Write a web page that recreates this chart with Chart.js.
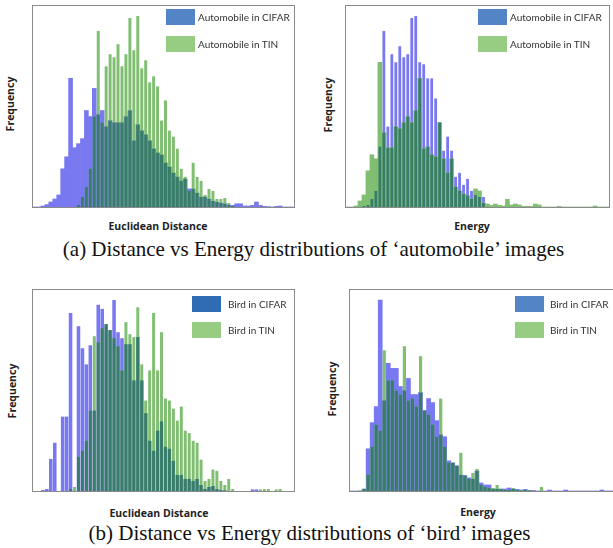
<!DOCTYPE html>
<html>
<head>
<meta charset="utf-8">
<script src="https://cdn.jsdelivr.net/npm/chart.js@4/dist/chart.umd.min.js"></script>
<style>
  body { margin: 0; background: #fff; }
  #fig { position: relative; width: 613px; height: 548px; overflow: hidden; font-family: Lato, "Open Sans", sans-serif; }
  .box { position: absolute; border: 1px solid #8a8a8a; box-sizing: border-box; }
  .box canvas { display: block; }
  .sw { position: absolute; width: 29px; height: 16px; }
  .lg { position: absolute; font-size: 10px; color: #333; line-height: 12px; white-space: nowrap; }
  .xl { position: absolute; font-family: "Open Sans", sans-serif; font-size: 10.5px; font-weight: bold; color: #222; transform: translate(-50%, -50%); white-space: nowrap; }
  .yl { position: absolute; font-family: "Open Sans", sans-serif; font-size: 10.5px; font-weight: bold; color: #222; transform: translate(-50%, -50%) rotate(-90deg); white-space: nowrap; }
  .cap { position: absolute; width: 613px; text-align: center; font-family: "Liberation Serif", serif; font-size: 21px; line-height: 24px; color: #111; white-space: nowrap; }
</style>
</head>
<body>
<div id="fig">
  <div class="box" style="left:32px;top:5px;width:263px;height:203px"><canvas id="c1" width="261" height="201"></canvas></div>
  <div class="box" style="left:345px;top:5px;width:265px;height:203px"><canvas id="c2" width="263" height="201"></canvas></div>
  <div class="box" style="left:32px;top:289px;width:263px;height:203px"><canvas id="c3" width="261" height="201"></canvas></div>
  <div class="box" style="left:349px;top:289px;width:268px;height:203px"><canvas id="c4" width="266" height="201"></canvas></div>

  <div class="sw" style="left:166px;top:9px;background:#5284c6"></div>
  <div class="lg" style="left:198px;top:11px">Automobile in CIFAR</div>
  <div class="sw" style="left:166px;top:36px;background:#97cd83"></div>
  <div class="lg" style="left:198px;top:38px">Automobile in TIN</div>

  <div class="sw" style="left:478px;top:9px;background:#5284c6"></div>
  <div class="lg" style="left:510px;top:11px">Automobile in CIFAR</div>
  <div class="sw" style="left:478px;top:36px;background:#97cd83"></div>
  <div class="lg" style="left:510px;top:38px">Automobile in TIN</div>

  <div class="sw" style="left:192px;top:296px;background:#2f6cb3"></div>
  <div class="lg" style="left:228px;top:298px">Bird in CIFAR</div>
  <div class="sw" style="left:192px;top:322px;background:#97cd83"></div>
  <div class="lg" style="left:228px;top:324px">Bird in TIN</div>

  <div class="sw" style="left:515px;top:296px;background:#5284c6"></div>
  <div class="lg" style="left:550px;top:298px">Bird in CIFAR</div>
  <div class="sw" style="left:515px;top:322px;background:#97cd83"></div>
  <div class="lg" style="left:550px;top:324px">Bird in TIN</div>

  <div class="xl" style="left:158px;top:226px">Euclidean Distance</div>
  <div class="xl" style="left:472px;top:226px">Energy</div>
  <div class="xl" style="left:159px;top:513px">Euclidean Distance</div>
  <div class="xl" style="left:478px;top:512px">Energy</div>

  <div class="yl" style="left:10px;top:104px">Frequency</div>
  <div class="yl" style="left:328px;top:105px">Frequency</div>
  <div class="yl" style="left:12px;top:391px">Frequency</div>
  <div class="yl" style="left:332px;top:389px">Frequency</div>

  <div class="cap" style="left:7px;top:237px">(a) Distance vs Energy distributions of ‘automobile’ images</div>
  <div class="cap" style="left:3px;top:521px">(b) Distance vs Energy distributions of ‘bird’ images</div>
</div>

<script>
// histogram bins, heights in % of the plot box
const bins = Array.from({ length: 66 }, (_, i) => String(i));

const autoDistCifar = [0,0,0.5,1.2,2.5,4,6,19,25,64,29.5,31.5,34,48,45,59,46,48,40,43,42,42,42,45,48,33,
  41,38,36,33,29,27,26,22,20,17,15,13,14,9,9,7,5,5,4,3,2.5,2,1.6,1,0.8,1.6,1.6,0.5,0.5,0.8,2.5,0.8,0.3,0.2,0,0.3,0.5,0,0,0];
const autoDistTin = [0,0,0,0,0,0,0,0,0,0,0,1,5,10,19,45,87.6,42,70,76,74.5,81,70,76,94,78,
  95,69,73,62,65,60,43,53,38,35,29,19,15,8,22,15,13,6,9,8,4,4,4.5,2,0.5,0,0,0,0,0,0,0,0,0,0,0,0,0,0,0];

const autoEnergyCifar = [0,0,0,0,0.5,1,4,8,30,87.6,40,76,72,80,74.5,76,94,95,72,71,64,64,54,42,28,35,
  28,15,17,11,14,8,6,5,5,0,0,0,0,0,0,0,0,0,0,0,0,0,0,0,0,0,0,0,0,0,0,0,0,0,0,0,0,0,0,0];
const autoEnergyTin = [0,0,0.5,3,6,18,26,24,72,37,29.5,29.5,40,39,42,45,42,48,64,29,30,26,25,42,24,17,
  24,10,8,6.5,5.7,4,9,8,2,1.5,0.8,1.5,0.8,0.5,3.8,1,1.5,1,0.3,0.3,0.3,1.5,1,0,0,0,0,0.3,0,0,0,0,0,0,0,0,0.5,0,0,0];

const birdDistCifar = [0,0,0.5,1,16,24,0,37,37,88.6,0,82,71,63,72.5,40,92.6,90.6,83,80,95,79,76,73,73,55,
  76.6,55,38.7,25,20,30,34.6,22,21,15,8,8,6,6,5,6,3,1,2,2.5,1,0.5,0.3,0,0,0,0,0,0,0.8,0.8,0,0,0,0,0,0,0,0,0];
const birdDistTin = [0,0,0,0,0,0,0,0,0,1,2,17,20,25,40,77,74,81,83,80,76,72,60,84,78,76.6,
  91.4,63,45,60,88.6,60,79,46,45,41,35,42,30,28.8,25,24,15.6,5,6,10.7,10,5,3,6,1,0,0,0,0,0,0,0.8,1,1,0,0.8,1,0,0,0];

const birdEnergyCifar = [0,0,0,1,21,34,42,95,45,63.5,61,61,52,50,56,48,48,49,40,46,44,35,28,27,15,14,
  12.5,8,7.7,6.5,6,10,4,3,3,1,1,1,1,1.5,1,0.8,0.5,0.8,0.3,0.3,0,0,0,0.5,0,0,0,0.5,0,0,0,0,0,0,0,0,0.5,0,0,0];
const birdEnergyTin = [0,0,0.3,1,8,22,33,30,70,55,55,50,48,72,45,46,42,67,40,38,33,27,46,22,14,14,
  12.5,19,7.7,6,9,11,3,2,1.5,1.5,3,1,0.5,0.5,1.5,0.5,0.3,0.5,0.3,0,0,2,0,0,0,0,0,0,0,0,0,0,0,0,0,0,0,0,0,0];

const cifarColor = 'rgb(120,120,240)';
const tinColor = 'rgb(128,190,114)';
const overlapColor = 'rgb(56,124,108)';

function histogram(id, cifar, tin, cifarWidth, tinWidth) {
  const both = cifar.map((v, i) => Math.min(v, tin[i]));
  new Chart(document.getElementById(id), {
    type: 'bar',
    data: {
      labels: bins,
      datasets: [
        { label: 'overlap', data: both, backgroundColor: overlapColor, order: 0,
          barPercentage: Math.min(cifarWidth, tinWidth) },
        { label: 'TIN', data: tin, backgroundColor: tinColor, order: 1, barPercentage: tinWidth },
        { label: 'CIFAR', data: cifar, backgroundColor: cifarColor, order: 2, barPercentage: cifarWidth }
      ]
    },
    options: {
      responsive: false,
      animation: false,
      devicePixelRatio: 1,
      layout: { padding: 0 },
      datasets: { bar: { grouped: false, categoryPercentage: 1, borderWidth: 0 } },
      plugins: { legend: { display: false }, tooltip: { enabled: false } },
      scales: {
        x: { display: false },
        y: { display: false, min: 0, max: 100 }
      }
    }
  });
}

histogram('c1', autoDistCifar, autoDistTin, 1, 0.75);
histogram('c2', autoEnergyCifar, autoEnergyTin, 0.7, 1);
histogram('c3', birdDistCifar, birdDistTin, 0.9, 0.75);
histogram('c4', birdEnergyCifar, birdEnergyTin, 1, 0.8);
</script>
</body>
</html>
